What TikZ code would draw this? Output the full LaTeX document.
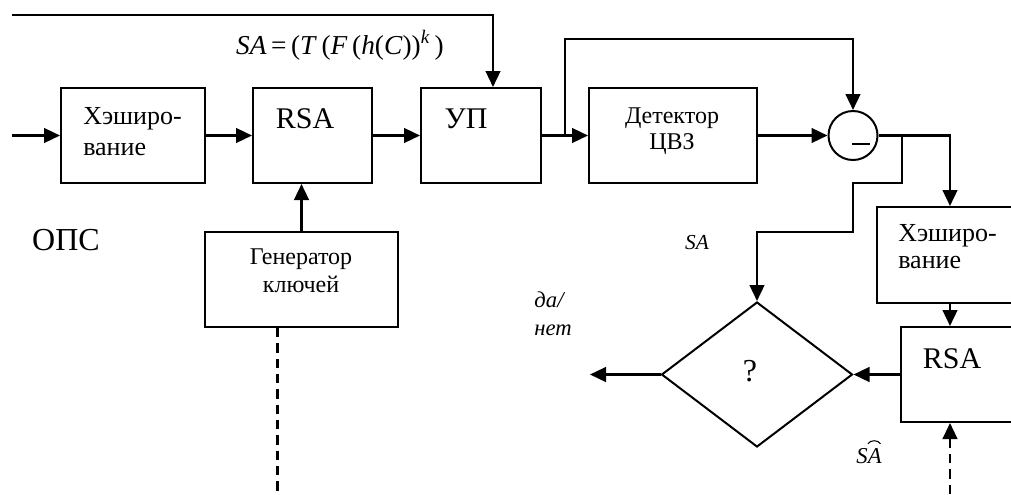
\documentclass[tikz,border=0pt]{standalone}
\usepackage{fontspec}
\setmainfont{Liberation Serif}
\usetikzlibrary{arrows.meta,shapes.geometric}
\begin{document}
\begin{tikzpicture}[x=0.75pt,y=-0.75pt,
  box/.style={draw,line width=1.5pt,inner sep=0pt},
  conn/.style={line width=1.8pt},
  arr/.style={conn,-{Triangle[length=12pt,width=11pt]}},
  dsh/.style={line width=1.6pt,dash pattern=on 7pt off 4.5pt},
  big/.style={inner sep=0pt,font=\fontsize{22.5}{26}\selectfont},
  hsh/.style={inner sep=0pt,font=\fontsize{19.5}{23}\selectfont},
  mid/.style={inner sep=0pt,font=\fontsize{18}{21}\selectfont},
  lab/.style={inner sep=0pt,font=\fontsize{16}{19}\selectfont\itshape},
  labb/.style={inner sep=0pt,font=\fontsize{17}{20}\selectfont\itshape}]
\useasboundingbox (0,0) rectangle (1011,494);
\clip (0,0) rectangle (1011,494);
% boxes
\node[box,minimum width=108pt,minimum height=71.25pt] (hash1) at (133,135.5) {};
\node[box,minimum width=89.25pt,minimum height=71.25pt] (rsa1) at (312.5,135.5) {};
\node[box,minimum width=90pt,minimum height=71.25pt] (up) at (481,135.5) {};
\node[box,minimum width=126pt,minimum height=71.25pt] (det) at (673,135.5) {};
\node[box,minimum width=144.75pt,minimum height=71.25pt] (gen) at (301.5,279.5) {};
\node[box,circle,minimum size=36.75pt] (circ) at (853,135.5) {};
\node[box,minimum width=109.5pt,minimum height=72pt] (hash2) at (950,255) {};
\node[box,minimum width=96.75pt,minimum height=71.25pt] (rsa2) at (965.5,374.5) {};
\node[box,diamond,minimum width=143.25pt,minimum height=108.75pt] (dia) at (757,374.5) {};
% texts
\node[hsh,anchor=base west] (h1a) at (83,124) {Хэширо-};
\node[hsh,anchor=base west] (h1b) at (83,155) {вание};
\node[big,anchor=base] (t1) at (305,128) {RSA};
\node[big,anchor=base] (t2) at (466,128) {УП};
\node[mid,anchor=base] (d1) at (672,123) {Детектор};
\node[mid,anchor=base] (d2) at (672,149) {ЦВЗ};
\node[font=\fontsize{24}{28}\selectfont,inner sep=0pt,anchor=base] (ops) at (66,250) {ОПС};
\node[mid,anchor=base] (g1) at (301,264) {Генератор};
\node[mid,anchor=base] (g2) at (301,292) {ключей};
\node[hsh,anchor=base west] (h2a) at (898,241) {Хэширо-};
\node[hsh,anchor=base west] (h2b) at (898,268) {вание};
\node[big,anchor=base] (t3) at (952,368) {RSA};
\node[font=\fontsize{24}{28}\selectfont,inner sep=0pt,anchor=base] (q) at (750,381) {?};
\node[lab,anchor=base] (sa1) at (697,249) {SA};
\node[labb,anchor=base] (yn1) at (549,307) {да/};
\node[labb,anchor=base] (yn2) at (553,335) {нет};
\node[labb,anchor=base] (sa2) at (869,463) {SA};
\draw[line width=0.8pt] ([xshift=-10.5pt,yshift=3pt]sa2.north east) .. controls ([xshift=-8.5pt,yshift=6pt]sa2.north east) and ([xshift=-3pt,yshift=6pt]sa2.north east) .. ([xshift=-1pt,yshift=3pt]sa2.north east);
\node[inner sep=0pt,font=\fontsize{20.5}{24}\selectfont,anchor=base] (fml) at (340,54)
  {\textit{SA}\,=\,(\textit{T}\,(\textit{F}\,(\textit{h}(\textit{C}))\textsuperscript{\textit{k}}\,)};
% minus sign
\draw[line width=1.3pt] (852,144) -- (870,144);
% connectors
\coordinate (inL) at (12,135.5);
\coordinate (topL) at (12,15);
\coordinate (br1) at (565,135.5);
\coordinate (br2) at (902,135.5);
\coordinate (outL) at (590,374.5);
\coordinate (dsb) at (950,494);
\draw[arr] (inL) -- (hash1.west);
\draw[arr] (hash1) -- (rsa1);
\draw[arr] (rsa1) -- (up);
\draw[arr] (topL) -| ([xshift=9pt]up.north);
\draw[arr] (up) -- (det);
\draw[arr] (br1) -- (565,39) -| (circ.north);
\draw[arr] (det) -- (circ);
\draw[arr] (circ.east) -| (hash2.north);
\draw[arr] (br2) -- (902,183) -- (853,183) -- (853,232) -| (dia.north);
\draw[arr] (hash2.south) -- (hash2.south |- rsa2.north);
\draw[arr] (rsa2.west) -- (dia.east);
\draw[arr] (dia.west) -- (outL);
\draw[arr] (gen.north) -- (gen.north |- rsa1.south);
\draw[dsh] ([xshift=-18pt]gen.south) -- ++(0,163);
\draw[dsh,-{Triangle[length=12pt,width=11pt]}] (dsb) -- (dsb |- rsa2.south);
\end{tikzpicture}
\end{document}
